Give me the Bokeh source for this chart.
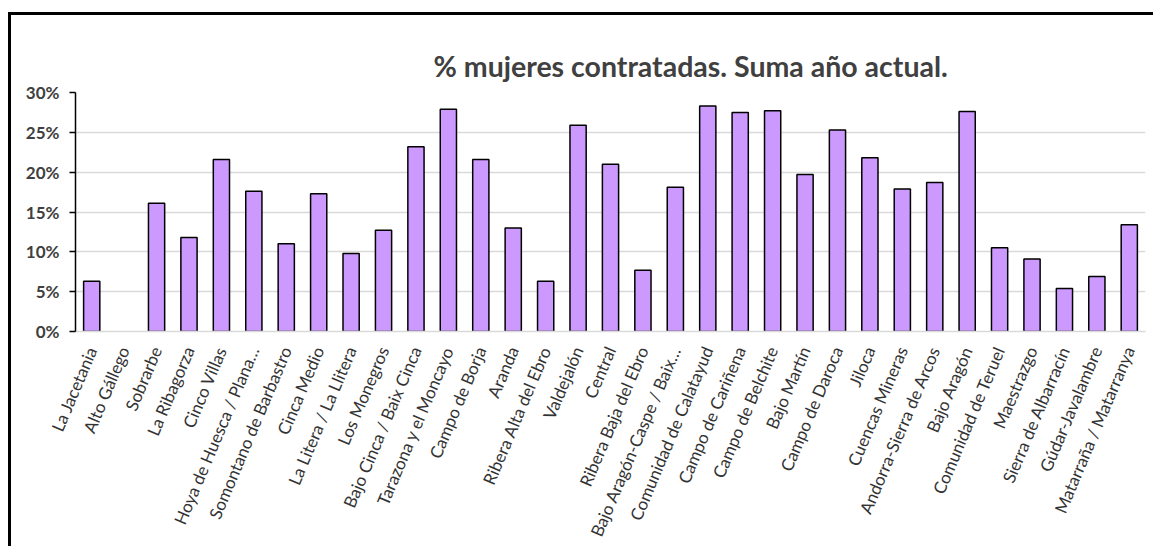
import math
from bokeh.plotting import figure
from bokeh.models import (ColumnDataSource, FactorRange, Range1d, NumeralTickFormatter,
                          FixedTicker, Title)
from bokeh.embed import file_html
from bokeh.resources import INLINE

categories = [
    "La Jacetania", "Alto Gállego", "Sobrarbe", "La Ribagorza", "Cinco Villas",
    "Hoya de Huesca / Plana…", "Somontano de Barbastro", "Cinca Medio",
    "La Litera / La Llitera", "Los Monegros", "Bajo Cinca / Baix Cinca",
    "Tarazona y el Moncayo", "Campo de Borja", "Aranda", "Ribera Alta del Ebro",
    "Valdejalón", "Central", "Ribera Baja del Ebro", "Bajo Aragón-Caspe / Baix…",
    "Comunidad de Calatayud", "Campo de Cariñena", "Campo de Belchite",
    "Bajo Martín", "Campo de Daroca", "Jiloca", "Cuencas Mineras",
    "Andorra-Sierra de Arcos", "Bajo Aragón", "Comunidad de Teruel", "Maestrazgo",
    "Sierra de Albarracín", "Gúdar-Javalambre", "Matarraña / Matarranya",
]
values = [
    0.063, float("nan"), 0.161, 0.118, 0.216, 0.176, 0.110, 0.173, 0.098, 0.127, 0.232,
    0.279, 0.216, 0.130, 0.063, 0.259, 0.210, 0.077, 0.181, 0.283, 0.275, 0.277,
    0.197, 0.253, 0.218, 0.179, 0.187, 0.276, 0.105, 0.091, 0.054, 0.069, 0.134,
]
y_ticks = [0.0, 0.05, 0.10, 0.15, 0.20, 0.25, 0.30]

FONT = "Lato"
TXT = "#404040"

source = ColumnDataSource(data=dict(cat=categories, val=values))

p = figure(x_range=FactorRange(factors=categories), y_range=Range1d(0, 0.30),
           width=1142, height=531, output_backend="svg", toolbar_location=None,
           min_border_left=64, min_border_right=8, min_border_top=77,
           min_border_bottom=215)
p.styles = {"margin-left": "11px", "margin-top": "15px", "overflow": "hidden",
            "box-shadow": "-3px 0px 0px 0px black, 0px -3px 0px 0px black, -3px -3px 0px 0px black"}

p.vbar(x="cat", top="val", width=0.5, source=source,
       fill_color="#cc99ff", line_color="black", line_width=1.5)

p.add_layout(Title(text="% mujeres contratadas. Suma año actual.", align="left",
                   offset=358, text_font=FONT, text_font_size="28.5px",
                   text_font_style="bold", text_color=TXT, standoff=19), "above")

p.outline_line_color = None
p.xgrid.visible = False
p.ygrid.grid_line_color = "#d9d9d9"
p.ygrid.grid_line_width = 1.5

p.yaxis.ticker = FixedTicker(ticks=y_ticks)
p.yaxis.formatter = NumeralTickFormatter(format="0%")
p.yaxis.axis_line_color = "black"
p.yaxis.axis_line_width = 1.5
p.yaxis.major_tick_line_color = "black"
p.yaxis.major_tick_line_width = 1.5
p.yaxis.major_tick_out = 6
p.yaxis.major_tick_in = 0
p.yaxis.minor_tick_line_color = None
p.yaxis.major_label_text_font = FONT
p.yaxis.major_label_text_font_size = "17px"
p.yaxis.major_label_text_font_style = "bold"
p.yaxis.major_label_text_color = TXT
p.yaxis.major_label_standoff = 10

p.xaxis.axis_line_color = "#d9d9d9"
p.xaxis.axis_line_width = 1.5
p.xaxis.major_tick_line_color = None
p.xaxis.minor_tick_line_color = None
p.xaxis.major_label_orientation = math.radians(67)
p.xaxis.major_label_text_font = FONT
p.xaxis.major_label_text_font_size = "17px"
p.xaxis.major_label_text_color = "#333333"
p.xaxis.major_label_standoff = 10

open("out.html", "w").write(file_html(p, INLINE))
